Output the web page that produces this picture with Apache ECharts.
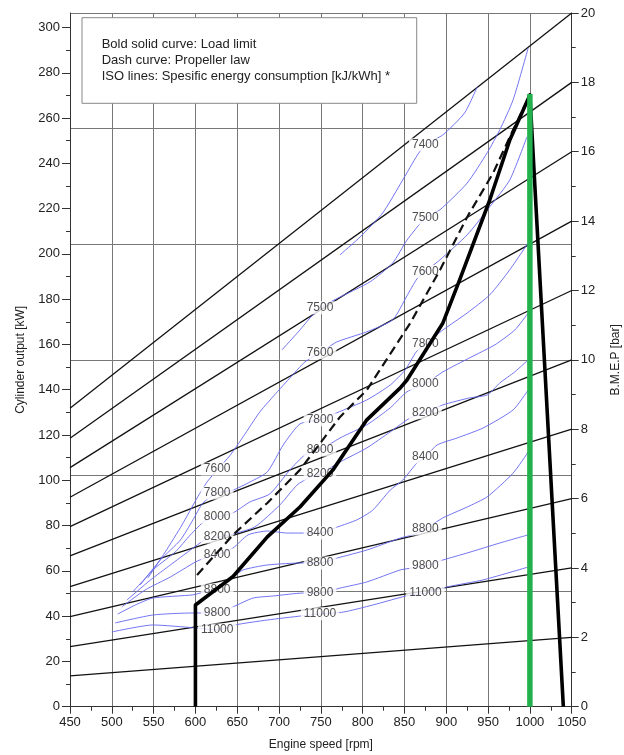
<!DOCTYPE html>
<html><head><meta charset="utf-8">
<script src="https://cdn.jsdelivr.net/npm/echarts@6/dist/echarts.min.js"></script>
<style>html,body{margin:0;padding:0;background:#fff}#chart{width:624px;height:755px}</style>
</head><body><div id="chart"></div>
<script>
// ---- data ----
const kwAxisMax = 306.4;          // top of plot in kW (= 20 bar at 1050 rpm)
const barAxisMax = 20;
const bmepBar = [2, 4, 6, 8, 10, 12, 14, 16, 18, 20];
const bmepKwAt450 = [13.6, 26.5, 39.8, 53.0, 66.6, 79.5, 92.5, 105.6, 118.6, 131.8];

const leftKwTicks = [0,20,40,60,80,100,120,140,160,180,200,220,240,260,280,300];
const leftKwMinor = [10,30,50,70,90,110,130,150,170,190,210,230,250,270,290];

const iso7400 = [[773,199.6],[797,207.5],[824,218.1],[848,232.7],[865,243.4],[875,248.2],[896,252.6],[922,262.3],[937,273.8]];
const iso7500 = [[703.5,157.6],[725,166.4],[737,171.7],[749,176.2],[769,180.2],[809,187.7],[836,196.0],[853,206.1],[875,215.9],[892.5,219.5],[925,231.3],[949,244.7],[964,254.8],[980,268.1],[998,291.0]];
const iso7600 = [[543,56.8],[564,68.4],[584,80.3],[602,92.2],[614,99.3],[627,105.0],[641,110.8],[657,119.2],[677,130.2],[698,139.1],[713,145.2],[731,152.3],[749,156.3],[769,161.1],[805,165.6],[836,170.9],[853,181.5],[865,189.0],[875,192.2],[892.5,197.4],[925,208.4],[952,220.8],[976,232.7],[996.5,251.7]];
const iso7800 = [[534,53.8],[558,64.8],[582,73.6],[597,82.5],[609,90.0],[626,94.4],[645,95.7],[665,99.2],[686,103.7],[705,115.6],[725,124.9],[749,126.7],[769,129.8],[805,135.5],[833,142.1],[851,148.8],[864,156.7],[875,160.3],[896,166.4],[925,173.9],[952,181.9],[976,193.0],[998,204.9]];
const iso8000 = [[525,50.7],[552,61.3],[576,68.4],[594,75.9],[611,82.0],[626,83.8],[645,85.6],[665,90.4],[689,94.0],[713,104.6],[731,111.2],[749,113.4],[773,118.7],[805,124.5],[833,132.0],[853,139.1],[875,142.6],[896,147.9],[928,154.1],[958,159.8],[982,166.4],[998,173.9]];
const iso8200 = [[518,47.1],[546,55.9],[570,62.6],[594,69.2],[611,73.6],[626,74.9],[645,76.3],[671,79.4],[701,89.1],[721.5,97.9],[737,101.4],[749,102.8],[773,108.1],[805,114.3],[833,121.4],[857,127.6],[875,129.8],[896,133.3],[928,136.4],[949,137.7],[964,143.0],[982,147.9],[998,153.2]];
const iso8400 = [[512,44.1],[540,51.6],[570,57.3],[600,63.9],[614,66.1],[626,67.0],[645,70.1],[663,75.9],[686,77.6],[710,76.7],[729,76.7],[749,76.7],[770,79.4],[793,82.5],[812,86.8],[833,95.7],[848,100.1],[865,107.7],[875,110.3],[889,115.6],[913,118.7],[944,123.1],[980,131.1],[998,139.9]];
const iso8800 = [[507,40.9],[528,44.9],[549,48.0],[597,49.4],[611,50.7],[626,51.6],[645,57.3],[657,60.4],[686,62.6],[729,63.5],[749,63.5],[770,65.7],[805,69.2],[845,74.5],[860,75.9],[875,78.5],[896,83.4],[925,88.2],[949,92.7],[980,103.2],[998,112.5]];
const iso9800 = [[504,37.0],[549,40.5],[597,41.4],[626,41.4],[645,44.1],[669,48.0],[693,48.9],[729,50.2],[749,50.2],[773,52.4],[805,55.1],[845,60.4],[860,61.3],[875,62.2],[896,64.8],[925,67.9],[964,72.3],[998,75.9]];
const iso11000 = [[500,33.0],[549,36.1],[600,34.8],[626,33.9],[647,36.1],[686,38.3],[727,40.1],[749,41.0],[777,41.8],[812,44.9],[857,49.4],[876,50.2],[901,52.9],[944,56.0],[998,61.7]];

const labelColumnRpm = [626, 749, 875];
const leftLabelValues = ['7600','7800','8000','8200','8400','8800','9800','11000'];
const leftLabelKw = [105.0, 94.4, 83.8, 74.9, 67.0, 51.6, 41.4, 33.9];
const midLabelValues = ['7500','7600','7800','8000','8200','8400','8800','9800','11000'];
const midLabelKw = [176.2, 156.3, 126.7, 113.4, 102.8, 76.7, 63.5, 50.2, 41.0];
const rightLabelValues = ['7400','7500','7600','7800','8000','8200','8400','8800','9800','11000'];
const rightLabelKw = [248.2, 215.9, 192.2, 160.3, 142.6, 129.8, 110.3, 78.5, 62.2, 50.2];

const loadLimit = [[600,0],[600,44.9],[645,57.5],[686,75.0],[725,88.2],[764.5,104.6],[805,126.7],[845,140.8],[853,144.3],[896,169.5],[916,188.5],[952,223.8],[976,250.3],[1000,270.2],[1040,0]];
const propellerLaw = [[602,58.2],[645,75.9],[686,90.0],[725,104.6],[773,128.0],[805,139.9],[857,169.5],[892.5,192.9],[925,216.3],[956,235.7],[980,254.8],[1000,270.2]];
const ratedSpeedLine = [[1000,0],[1000,270.6]];

const legendLines = ['Bold solid curve: Load limit', 'Dash curve: Propeller law', 'ISO lines: Spesific energy consumption [kJ/kWh] *'];

// ---- build chart ----
const FONT = '"Liberation Sans", Arial, sans-serif';
const chart = echarts.init(document.getElementById('chart'), null, {renderer: 'canvas'});

const series = [];
bmepBar.forEach((b, i) => {
  series.push({
    type: 'line', xAxisIndex: 0, yAxisIndex: 0, silent: true, symbol: 'none', z: 3,
    data: [[450, bmepKwAt450[i]], [1050, b * kwAxisMax / barAxisMax]],
    lineStyle: {color: '#111', width: 1.3}
  });
});
[iso7400, iso7500, iso7600, iso7800, iso8000, iso8200, iso8400, iso8800, iso9800, iso11000].forEach(d => {
  series.push({
    type: 'line', yAxisIndex: 0, silent: true, symbol: 'none', z: 4, smooth: 0.2,
    data: d, lineStyle: {color: '#6464f0', width: 0.9}
  });
});
const labelData = [];
leftLabelValues.forEach((v, i) => labelData.push({name: v, value: [labelColumnRpm[0], leftLabelKw[i]]}));
midLabelValues.forEach((v, i) => labelData.push({name: v, value: [labelColumnRpm[1], midLabelKw[i]]}));
rightLabelValues.forEach((v, i) => labelData.push({name: v, value: [labelColumnRpm[2], rightLabelKw[i]]}));
series.push({
  type: 'scatter', yAxisIndex: 0, silent: true, z: 5, symbolSize: 1,
  itemStyle: {color: 'rgba(0,0,0,0)'},
  data: labelData,
  label: {show: true, position: 'inside', formatter: '{b}', fontSize: 12, fontFamily: FONT,
    color: '#222', backgroundColor: '#fff', padding: [1, 3, 0, 3]}
});
series.push({
  type: 'line', yAxisIndex: 0, silent: true, symbol: 'none', z: 6, data: propellerLaw,
  lineStyle: {color: '#111', width: 2.2, type: [9, 5]}
});
series.push({
  type: 'line', yAxisIndex: 0, silent: true, symbol: 'none', z: 7, data: loadLimit,
  lineStyle: {color: '#000', width: 3.6, join: 'round'}
});
series.push({
  type: 'line', yAxisIndex: 0, silent: true, symbol: 'none', z: 8, data: ratedSpeedLine,
  lineStyle: {color: '#22b14c', width: 5.5, cap: 'butt'}
});

const axisColor = '#333';
const option = {
  animation: false,
  backgroundColor: '#fff',
  textStyle: {fontFamily: FONT},
  grid: {left: 70, right: 52.3, top: 13, bottom: 48.3, containLabel: false, outerBoundsMode: 'none'},
  xAxis: {
    type: 'value', min: 450, max: 1050, interval: 50,
    axisLine: {lineStyle: {color: axisColor}},
    axisTick: {length: 7, lineStyle: {color: axisColor}},
    minorTick: {show: true, splitNumber: 2, length: 4, lineStyle: {color: axisColor}},
    splitLine: {show: true, lineStyle: {color: '#777', width: 1}},
    axisLabel: {fontSize: 13, color: '#222', margin: 9, fontFamily: FONT, formatter: v => String(v)},
    name: 'Engine speed [rpm]', nameLocation: 'middle', nameGap: 32,
    nameTextStyle: {fontSize: 12, color: '#222', fontFamily: FONT}
  },
  yAxis: [
    {
      type: 'value', min: 0, max: kwAxisMax, position: 'left',
      axisLine: {show: true, lineStyle: {color: axisColor}},
      axisTick: {show: true, length: 8, customValues: leftKwTicks, lineStyle: {color: axisColor}},
      axisLabel: {fontSize: 13, color: '#222', margin: 10, customValues: leftKwTicks, fontFamily: FONT, formatter: v => String(v)},
      splitLine: {show: false},
      name: 'Cylinder output [kW]', nameLocation: 'middle', nameRotate: 90, nameGap: 43,
      nameTextStyle: {fontSize: 12, color: '#222', fontFamily: FONT}
    },
    {
      type: 'value', min: 0, max: barAxisMax, interval: 2, position: 'right',
      axisLine: {show: true, lineStyle: {color: axisColor}},
      axisTick: {show: true, length: 7, lineStyle: {color: axisColor}},
      minorTick: {show: true, splitNumber: 2, length: 4, lineStyle: {color: axisColor}},
      axisLabel: {fontSize: 13, color: '#222', margin: 9, fontFamily: FONT},
      splitLine: {show: false},
      name: 'B.M.E.P [bar]', nameLocation: 'middle', nameRotate: 90, nameGap: 38,
      nameTextStyle: {fontSize: 12, color: '#222', fontFamily: FONT}
    },
    {
      type: 'value', min: 0, max: kwAxisMax, position: 'left',
      axisLine: {show: false},
      axisTick: {show: true, length: 4, customValues: leftKwMinor, lineStyle: {color: axisColor}},
      axisLabel: {show: false}, splitLine: {show: false}
    },
    {
      type: 'value', min: 0, max: 6, interval: 1, position: 'left',
      axisLine: {show: false}, axisTick: {show: false}, axisLabel: {show: false},
      splitLine: {show: true, lineStyle: {color: '#777', width: 1}}
    }
  ],
  graphic: [
    {type: 'rect', z: 20, shape: {x: 82, y: 17.7, width: 334.7, height: 85.6},
     style: {fill: '#fff', stroke: '#888', lineWidth: 1}},
    ...legendLines.map((t, i) => ({
      type: 'text', z: 21, x: 101.7, y: [44.5, 60.5, 76][i],
      style: {text: t, font: '13px ' + FONT, fill: '#222', textVerticalAlign: 'middle'}
    }))
  ],
  series
};
chart.setOption(option);
</script></body></html>
